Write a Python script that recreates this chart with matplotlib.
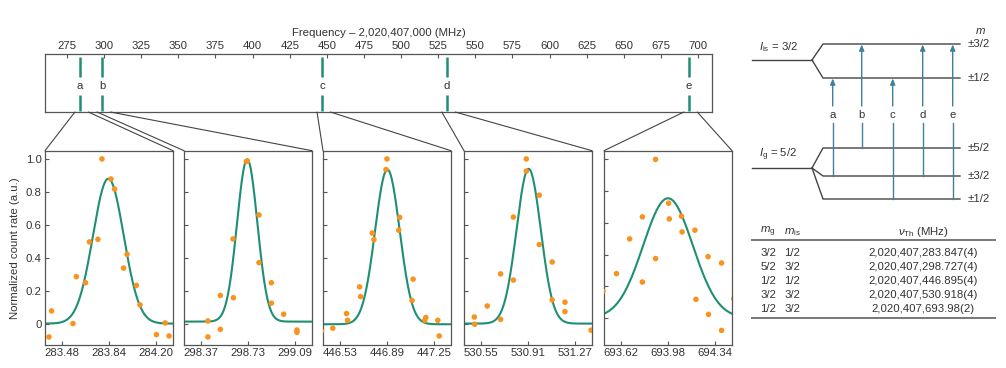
import numpy as np
import matplotlib
matplotlib.use("Agg")
import matplotlib.pyplot as plt
from matplotlib.patches import ConnectionPatch

plt.rcParams['font.family'] = ['Liberation Sans', 'DejaVu Sans']
plt.rcParams['mathtext.fontset'] = 'custom'
plt.rcParams['mathtext.rm'] = 'Liberation Sans'
plt.rcParams['mathtext.it'] = 'Liberation Sans:italic'
plt.rcParams['mathtext.bf'] = 'Liberation Sans:bold'

# ---------------- data ----------------
line_labels = ['a', 'b', 'c', 'd', 'e']
line_freqs = [283.847, 298.727, 446.895, 530.918, 693.98]
top_ticks = list(range(275, 701, 25))
panel_centers = [283.84, 298.73, 446.89, 530.91, 693.98]

p1_x = [283.38, 283.40, 283.564, 283.59, 283.66, 283.69, 283.755, 283.786, 283.855,
        283.883, 283.978, 283.952, 284.05, 284.077, 284.203, 284.27, 284.30]
p1_y = [-0.081, 0.077, 0.0, 0.285, 0.248, 0.496, 0.512, 1.0, 0.878,
        0.817, 0.421, 0.337, 0.232, 0.114, -0.067, 0.004, -0.075]
p2_x = [298.423, 298.423, 298.518, 298.518, 298.615, 298.618, 298.717, 298.725,
        298.814, 298.814, 298.909, 298.909, 299.003, 299.105, 299.105]
p2_y = [0.016, -0.081, 0.171, -0.035, 0.514, 0.157, 0.984, 0.988,
        0.66, 0.37, 0.248, 0.124, 0.057, -0.039, -0.053]
p3_x = [446.388, 446.475, 446.58, 446.588, 446.68, 446.688, 446.777, 446.79, 446.89,
        446.882, 446.987, 446.98, 447.09, 447.082, 447.187, 447.179, 447.279, 447.29]
p3_y = [-0.045, -0.028, 0.061, 0.02, 0.223, 0.164, 0.55, 0.51, 1.0,
        0.935, 0.645, 0.567, 0.27, 0.14, 0.037, 0.02, 0.02, -0.075]
p4_x = [530.499, 530.502, 530.598, 530.70, 530.70, 530.798, 530.798, 530.897, 530.897,
        530.996, 530.996, 531.095, 531.095, 531.193, 531.193, 531.393]
p4_y = [0.04, -0.004, 0.107, 0.302, 0.026, 0.647, 0.264, 1.0, 0.926,
        0.78, 0.48, 0.374, 0.144, 0.13, 0.073, -0.04]
p5_x = [693.482, 693.586, 693.686, 693.784, 693.784, 693.885, 693.885, 693.985, 693.99,
        694.083, 694.088, 694.186, 694.194, 694.287, 694.29, 694.39, 694.39, 694.483]
p5_y = [0.168, 0.28, 0.499, 0.638, 0.227, 1.0, 0.375, 0.724, 0.625,
        0.642, 0.543, 0.554, 0.118, 0.387, 0.023, 0.347, -0.078, 0.122]
panel_x = [p1_x, p2_x, p3_x, p4_x, p5_x]
panel_y = [p1_y, p2_y, p3_y, p4_y, p5_y]

# Gaussian fit parameters: centre, amplitude, sigma, offset
fit_center = [283.835, 298.724, 446.893, 530.915, 693.98]
fit_amp = [0.88, 0.985, 0.94, 0.94, 0.755]
fit_sigma = [0.118, 0.078, 0.094, 0.093, 0.19]
fit_offset = [0.0, 0.012, -0.004, 0.0, 0.0]
panel_ylims = [(-0.13, 1.05)] * 4 + [(-0.17, 1.055)]

# Level scheme / table
table_mg = ['3/2', '5/2', '1/2', '3/2', '1/2']
table_mis = ['1/2', '3/2', '1/2', '3/2', '3/2']
table_nu = ['2,020,407,283.847(4)', '2,020,407,298.727(4)', '2,020,407,446.895(4)',
            '2,020,407,530.918(4)', '2,020,407,693.98(2)']

# ---------------- style ----------------
W, H = 1006, 368
TEAL = '#1f8f74'
ORANGE = '#f7931e'
TXT = '#333333'
SPINE = '#555555'
ARROW = '#3f819c'
FS = 8.2

fig = plt.figure(figsize=(W / 100, H / 100), dpi=100)

def px_axes(l, t, r, b):
    return fig.add_axes([l / W, 1 - b / H, (r - l) / W, (b - t) / H])

# ---------------- top overview axis ----------------
axt = px_axes(45, 54, 712, 112)
axt.set_xlim(260.2, 709.4)
axt.set_ylim(0, 1)
axt.set_yticks([])
axt.xaxis.tick_top()
axt.set_xticks(top_ticks)
axt.tick_params(axis='x', direction='in', length=3, width=0.8, pad=2,
                labelsize=FS, colors=SPINE, labelcolor=TXT)
for s in axt.spines.values():
    s.set_color(SPINE)
    s.set_linewidth(0.9)
axt.set_xlabel('Frequency \u2013 2,020,407,000 (MHz)', fontsize=FS, color=TXT, labelpad=4)
axt.xaxis.set_label_position('top')
for f, lab in zip(line_freqs, line_labels):
    axt.vlines(f, 0.603, 0.948, color=TEAL, lw=1.8)
    axt.vlines(f, 0.017, 0.293, color=TEAL, lw=1.8)
    axt.text(f, 0.45, lab, ha='center', va='center', fontsize=FS, color=TXT)

# ---------------- zoomed panels ----------------
lefts = [45, 184, 323, 464, 604]
pw = 128
for i in range(5):
    ax = px_axes(lefts[i], 150.7, lefts[i] + pw, 345)
    c = panel_centers[i]
    ax.set_xlim(c - 0.49, c + 0.49)
    ax.set_ylim(*panel_ylims[i])
    xs = np.linspace(c - 0.49, c + 0.49, 400)
    ys = fit_offset[i] + fit_amp[i] * np.exp(-(xs - fit_center[i]) ** 2 / (2 * fit_sigma[i] ** 2))
    ax.plot(xs, ys, color=TEAL, lw=1.5, zorder=2)
    ax.scatter(panel_x[i], panel_y[i], s=16, color=ORANGE, edgecolors='none', zorder=3)
    ax.set_xticks([c - 0.36, c, c + 0.36])
    ax.set_xticklabels([f'{c - 0.36:.2f}', f'{c:.2f}', f'{c + 0.36:.2f}'])
    ax.set_yticks([0, 0.2, 0.4, 0.6, 0.8, 1.0])
    if i == 0:
        ax.set_yticklabels(['0', '0.2', '0.4', '0.6', '0.8', '1.0'])
        ax.set_ylabel('Normalized count rate (a.u.)', fontsize=FS, color=TXT, labelpad=4)
    else:
        ax.set_yticklabels([])
    ax.tick_params(direction='in', length=3, width=0.8, pad=2.5, labelsize=FS,
                   colors=SPINE, labelcolor=TXT)
    for s in ax.spines.values():
        s.set_color(SPINE)
        s.set_linewidth(0.9)
    f = line_freqs[i]
    for xa, xb in [(f - 3.5, 0.0), (f + 5.5, 1.0)]:
        con = ConnectionPatch(xyA=(xa, 0), coordsA=axt.transData,
                              xyB=(xb, 1), coordsB=ax.transAxes,
                              color='#444444', lw=0.8)
        fig.add_artist(con)

# ---------------- level scheme + table ----------------
axd = px_axes(740, 0, 1006, 368)
axd.set_xlim(740, 1006)
axd.set_ylim(368, 0)
axd.axis('off')

LV = '#444444'
x0, xs_, xl, xe = 752, 812, 823, 960
is_base = 60
is_levels = {'3/2': 44, '1/2': 78}
g_base = 168
g_levels = {'5/2': 148, '3/2': 176, '1/2': 199}

axd.plot([x0, xs_], [is_base, is_base], color=LV, lw=1.0)
for m, y in is_levels.items():
    axd.plot([xs_, xl, xe], [is_base, y, y], color=LV, lw=1.0)
    axd.text(968, y, '\u00b1' + m, ha='left', va='center', fontsize=FS, color=TXT)
axd.plot([x0, xs_], [g_base, g_base], color=LV, lw=1.0)
for m, y in g_levels.items():
    axd.plot([xs_, xl, xe], [g_base, y, y], color=LV, lw=1.0)
    axd.text(968, y, '\u00b1' + m, ha='left', va='center', fontsize=FS, color=TXT)
axd.text(980, 31, '$m$', ha='center', va='center', fontsize=FS, color=TXT)
axd.text(759, 47, r'$I_{\mathrm{is}}$ = 3/2', ha='left', va='center', fontsize=FS, color=TXT)
axd.text(759, 155, r'$I_{\mathrm{g}}$ = 5/2', ha='left', va='center', fontsize=FS, color=TXT)

arrow_x = [832.7, 861.7, 892.7, 922.7, 952.7]
for xa, lab, mg, mi in zip(arrow_x, line_labels, table_mg, table_mis):
    y0 = g_levels[mg]
    y1 = is_levels[mi]
    axd.plot([xa, xa], [y0, 123], color=ARROW, lw=1.0)
    axd.annotate('', xy=(xa, y1 + 0.5), xytext=(xa, 106),
                 arrowprops=dict(arrowstyle='-|>,head_length=0.35,head_width=0.15',
                                 color=ARROW, lw=1.0, shrinkA=0, shrinkB=0))
    axd.text(xa, 115, lab, ha='center', va='center', fontsize=FS, color=TXT)

# table
col_x = [768, 792, 923]
axd.text(col_x[0], 232, r'$m_{\mathrm{g}}$', ha='center', va='center', fontsize=FS, color=TXT)
axd.text(col_x[1], 232, r'$m_{\mathrm{is}}$', ha='center', va='center', fontsize=FS, color=TXT)
axd.text(col_x[2], 232, r'$\nu_{\mathrm{Th}}$ (MHz)', ha='center', va='center', fontsize=FS, color=TXT)
axd.plot([752, 995], [240, 240], color='#777777', lw=1.4)
row_y = [252.7, 266.7, 280.7, 295, 309]
for y, a, b, c in zip(row_y, table_mg, table_mis, table_nu):
    axd.text(col_x[0], y, a, ha='center', va='center', fontsize=FS, color=TXT)
    axd.text(col_x[1], y, b, ha='center', va='center', fontsize=FS, color=TXT)
    axd.text(col_x[2], y, c, ha='center', va='center', fontsize=FS, color=TXT)
axd.plot([752, 995], [318, 318], color='#777777', lw=1.4)

fig.savefig('out.png', dpi=100)
